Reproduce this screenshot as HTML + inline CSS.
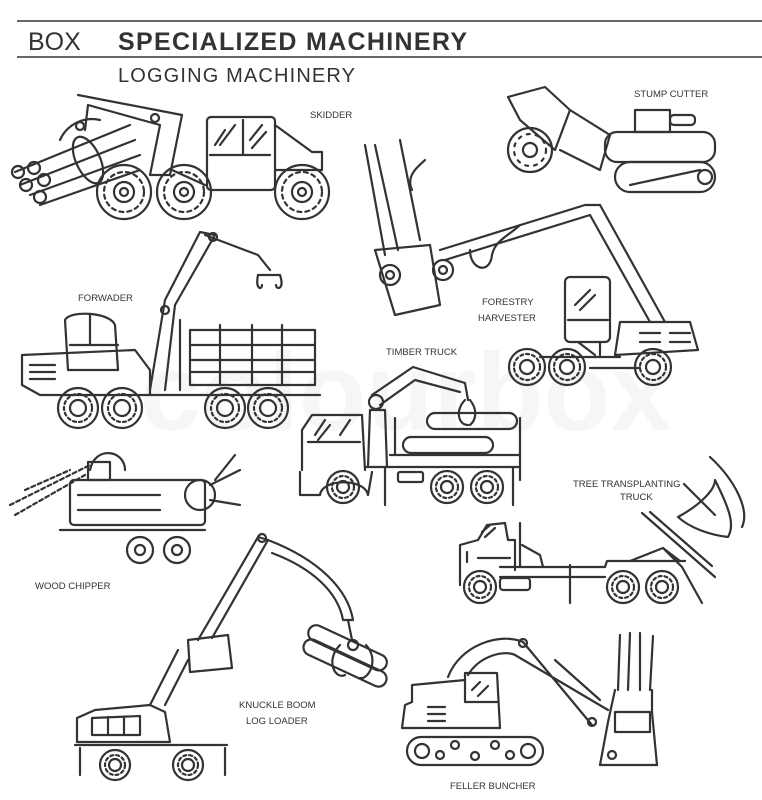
<!DOCTYPE html>
<html><head><meta charset="utf-8"><style>
html,body{margin:0;padding:0;background:#fff}
svg{display:block}
.t{font-family:"Liberation Sans",sans-serif;fill:#333}
.l{font-family:"Liberation Sans",sans-serif;font-size:9.5px;fill:#333}
</style></head><body>
<svg width="762" height="800" viewBox="0 0 762 800" xmlns="http://www.w3.org/2000/svg">
<text x="140" y="430" font-family="Liberation Sans,sans-serif" font-size="110" font-weight="bold" fill="#f6f6f6">colourbox</text>
<line x1="17" y1="21" x2="762" y2="21" stroke="#333" stroke-width="1.5"/>
<line x1="17" y1="57" x2="762" y2="57" stroke="#333" stroke-width="1.5"/>
<text x="28" y="50" class="t" font-size="25">BOX</text>
<text x="118" y="50" class="t" font-size="25" font-weight="bold" textLength="349">SPECIALIZED MACHINERY</text>
<text x="118" y="82" class="t" font-size="20" textLength="237">LOGGING MACHINERY</text>

<text x="310" y="118" class="l">SKIDDER</text>
<text x="634" y="97" class="l">STUMP CUTTER</text>
<text x="78" y="301" class="l">FORWADER</text>
<text x="482" y="305" class="l">FORESTRY</text>
<text x="478" y="321" class="l">HARVESTER</text>
<text x="386" y="355" class="l">TIMBER TRUCK</text>
<text x="573" y="487" class="l">TREE TRANSPLANTING</text>
<text x="620" y="500" class="l">TRUCK</text>
<text x="35" y="589" class="l">WOOD CHIPPER</text>
<text x="239" y="708" class="l">KNUCKLE BOOM</text>
<text x="246" y="724" class="l">LOG LOADER</text>
<text x="450" y="789" class="l">FELLER BUNCHER</text>

<g fill="none" stroke="#333" stroke-width="2.2" stroke-linejoin="round" stroke-linecap="round">
<!-- SKIDDER -->
<path d="M78 95 L182 115 L170 175 L150 175 L160 125 L88 105 L85 130"/>
<path d="M60 140 A35 35 0 0 1 100 120"/>
<circle cx="80" cy="126" r="4"/><circle cx="155" cy="118" r="4"/>
<path d="M15 172 L130 125 M20 185 L135 140 M30 195 L140 155 M40 205 L140 170"/>
<circle cx="18" cy="172" r="6"/><circle cx="34" cy="168" r="6"/><circle cx="26" cy="185" r="6"/><circle cx="44" cy="180" r="6"/><circle cx="40" cy="197" r="6"/>
<ellipse cx="88" cy="160" rx="12" ry="25" transform="rotate(-25 88 160)"/>
<rect x="207" y="117" width="68" height="73" rx="4"/>
<path d="M210 155 L270 155 M243 120 L243 155 M275 125 L312 152 L322 152 L322 170 L275 170"/>
<path d="M215 145 L225 130 M220 145 L235 125 M250 140 L262 125 M252 148 L266 132"/>
<path d="M172 170 L205 185"/>
<g id="big"><circle cx="124" cy="192" r="27"/><circle cx="124" cy="192" r="10"/><circle cx="124" cy="192" r="4"/><circle cx="124" cy="192" r="20" stroke-dasharray="4 4"/></g>
<use href="#big" x="60"/><use href="#big" x="178"/>
<!-- STUMP CUTTER -->
<path d="M508 97 L545 87 L570 110 L555 150 L520 120 Z"/>
<circle cx="530" cy="150" r="22"/><circle cx="530" cy="150" r="7"/>
<circle cx="530" cy="150" r="16" stroke-dasharray="3 6"/>
<path d="M570 110 L610 135 L600 170 L560 150"/>
<rect x="605" y="132" width="110" height="30" rx="12"/>
<rect x="635" y="110" width="35" height="22"/>
<rect x="670" y="115" width="25" height="10" rx="4"/>
<rect x="615" y="162" width="100" height="30" rx="15"/>
<circle cx="705" cy="177" r="7"/><path d="M630 185 L700 170"/>
<!-- FORESTRY HARVESTER -->
<path d="M365 145 L385 255 M375 145 L398 250 M400 140 L420 240"/>
<path d="M412 190 C405 175 420 165 425 160"/>
<path d="M375 250 L430 245 L440 305 L395 315 Z"/>
<circle cx="390" cy="275" r="10"/><circle cx="443" cy="270" r="10"/>
<circle cx="390" cy="275" r="4"/><circle cx="443" cy="270" r="4"/>
<path d="M440 250 L585 205 L600 205 L665 322 M445 260 L590 215 L650 322"/>
<path d="M470 250 C470 270 490 275 492 255 C495 240 510 235 520 225"/>
<rect x="565" y="277" width="45" height="65" rx="5"/>
<path d="M568 320 L608 320 M575 305 L590 290 M580 310 L595 295"/>
<path d="M620 322 L690 322 L698 350 L615 355 Z M578 342 L595 355 M600 355 L600 342"/>
<path d="M640 333 L660 333 M670 333 L690 333 M640 342 L660 342 M670 342 L690 342"/>
<path d="M540 357 L620 357 M590 368 L640 368"/>
<g id="med"><circle cx="527" cy="367" r="18"/><circle cx="527" cy="367" r="7"/><circle cx="527" cy="367" r="13" stroke-dasharray="3 3"/></g>
<use href="#med" x="40"/><use href="#med" x="126"/>
<!-- FORWADER -->
<path d="M22 355 L135 350 L150 370 L150 395 L40 395 L22 385 Z"/>
<path d="M65 320 C70 310 110 312 115 325 L118 370 L68 370 Z M90 315 L90 345 M70 345 L118 345"/>
<path d="M30 365 L55 365 M30 372 L55 372 M30 379 L55 379"/>
<path d="M150 390 L165 300 L200 232 L215 235 L175 305 L165 390 M205 235 L258 255 L270 270"/>
<circle cx="165" cy="310" r="4"/><circle cx="213" cy="237" r="4"/>
<path d="M258 275 C255 290 262 290 262 285 M280 275 C285 290 276 290 276 285 M258 275 L280 275"/>
<path d="M180 320 L180 390 M190 330 L315 330 L315 385 L190 385 Z M190 345 L315 345 M190 360 L315 360 M190 372 L315 372"/>
<path d="M220 325 L220 385 M252 325 L252 385 M282 325 L282 385"/>
<path d="M150 395 L320 395"/>
<g id="sm"><circle cx="78" cy="408" r="20"/><circle cx="78" cy="408" r="8"/><circle cx="78" cy="408" r="14" stroke-dasharray="3 3"/></g>
<use href="#sm" x="44"/><use href="#sm" x="147"/><use href="#sm" x="190"/>
<!-- TIMBER TRUCK -->
<path d="M302 470 L302 430 L312 415 L362 415 L365 470 M308 442 L360 442"/>
<path d="M315 435 L325 420 M318 440 L330 425 M340 435 L350 420"/>
<path d="M300 472 L300 495 L320 495 M320 495 C322 478 365 478 368 495 L372 472"/>
<path d="M365 467 L520 467 M390 455 L520 455 M395 418 L395 455 M520 418 L520 480"/>
<path d="M368 467 L370 410 L385 410 L387 467"/>
<circle cx="376" cy="402" r="7"/>
<path d="M372 395 L413 367 L465 383 L468 400 M380 405 L415 380 L460 392"/>
<path d="M465 400 C455 410 458 425 468 425 M470 400 C478 410 476 420 470 425"/>
<rect x="427" y="413" width="90" height="16" rx="8"/>
<rect x="403" y="437" width="90" height="16" rx="8"/>
<rect x="398" y="472" width="25" height="10" rx="2"/>
<path d="M385 467 L385 505 M513 467 L513 505"/>
<g id="tt"><circle cx="343" cy="487" r="16"/><circle cx="343" cy="487" r="6"/><circle cx="343" cy="487" r="11" stroke-dasharray="3 3"/></g>
<use href="#tt" x="104"/><use href="#tt" x="144"/>
<!-- WOOD CHIPPER -->
<path d="M10 505 L90 465 M15 515 L85 475 M25 490 L70 470" stroke-dasharray="4 3"/>
<path d="M90 470 C95 445 125 450 125 470"/>
<rect x="70" y="480" width="135" height="45" rx="4"/>
<rect x="88" y="462" width="22" height="18"/>
<circle cx="200" cy="495" r="15"/><path d="M210 485 L240 470 M210 500 L240 505 M215 480 L235 455"/>
<path d="M78 495 L160 495 M78 510 L160 510 M60 530 L205 530"/>
<circle cx="140" cy="550" r="13"/><circle cx="177" cy="550" r="13"/>
<circle cx="140" cy="550" r="5"/><circle cx="177" cy="550" r="5"/>
<!-- TREE TRANSPLANTING -->
<path d="M460 585 L460 545 L478 540 L487 525 L505 523 L508 540 L515 540 L515 570 M520 523 L520 567 M522 545 L540 555 L543 567"/>
<path d="M482 532 L490 525 M485 537 L495 528 M467 552 L467 562 M478 558 L510 558"/>
<path d="M500 567 L605 567 L607 561 L685 561 M500 577 L605 577 M570 565 L570 603"/>
<rect x="500" y="578" width="30" height="12" rx="3"/>
<path d="M630 561 L663 548 L680 561 M663 548 L682 567 L702 603"/>
<path d="M642 513 L715 577 M650 512 L712 566"/>
<path d="M684 484 L715 515"/>
<path d="M678 517 C700 505 715 490 715 480 C730 510 735 525 728 537 C710 535 690 528 678 517 Z"/>
<path d="M710 457 C735 480 750 510 742 527"/>
<g id="tr"><circle cx="480" cy="587" r="16"/><circle cx="480" cy="587" r="6"/><circle cx="480" cy="587" r="11" stroke-dasharray="3 3"/></g>
<use href="#tr" x="143"/><use href="#tr" x="182"/>
<!-- KNUCKLE BOOM -->
<path d="M77 742 L77 718 L95 710 L150 705 L165 712 L170 742 Z M92 718 L140 716 L140 735 L92 735 Z M108 717 L108 735 M124 717 L124 735"/>
<path d="M75 745 L227 745 M80 748 L80 775 M225 748 L225 775"/>
<g id="kb"><circle cx="115" cy="765" r="15"/><circle cx="115" cy="765" r="6"/><circle cx="115" cy="765" r="10" stroke-dasharray="3 3"/></g>
<use href="#kb" x="73"/>
<path d="M150 705 L178 650 M165 705 L188 660"/>
<path d="M190 672 L188 640 L228 635 L232 668 Z"/>
<path d="M198 640 L258 537 L268 540 L212 638"/>
<path d="M268 540 C320 560 348 590 353 620 L343 620 C338 592 312 568 272 553"/>
<circle cx="262" cy="538" r="4"/>
<path d="M348 620 L352 640"/><circle cx="353" cy="645" r="5"/>
<rect x="300" y="655" width="90" height="16" rx="8" transform="rotate(25 345 663)"/>
<rect x="305" y="640" width="85" height="16" rx="8" transform="rotate(25 348 648)"/>
<path d="M340 645 C325 660 335 680 345 675 M366 645 C380 660 368 680 360 678"/>
<!-- FELLER BUNCHER -->
<rect x="407" y="737" width="136" height="28" rx="14"/>
<circle cx="422" cy="751" r="7"/><circle cx="528" cy="751" r="7"/>
<circle cx="440" cy="755" r="4"/><circle cx="455" cy="745" r="4"/><circle cx="475" cy="756" r="4"/><circle cx="495" cy="745" r="4"/><circle cx="510" cy="755" r="4"/>
<path d="M402 728 L405 705 L412 702 L412 685 L465 680 L465 673 L497 673 L500 728 Z M465 680 L465 702 L497 702"/>
<path d="M472 690 L480 682 M478 696 L488 686"/>
<path d="M428 707 L445 707 M428 714 L445 714 M428 721 L445 721"/>
<path d="M448 677 C460 645 500 632 523 642 L592 725 M468 675 C480 655 505 650 515 655 L608 710"/>
<circle cx="523" cy="643" r="4"/><circle cx="592" cy="722" r="4"/>
<path d="M555 660 L600 700"/>
<path d="M600 765 L608 722 L615 690 M657 765 L652 712 L652 690"/>
<rect x="615" y="712" width="35" height="20"/>
<path d="M618 690 L620 635 M628 690 L630 633 M640 690 L640 633 M650 690 L653 636"/>
<path d="M600 765 L657 765"/><circle cx="612" cy="755" r="4"/>
</g>
</svg>
</body></html>
